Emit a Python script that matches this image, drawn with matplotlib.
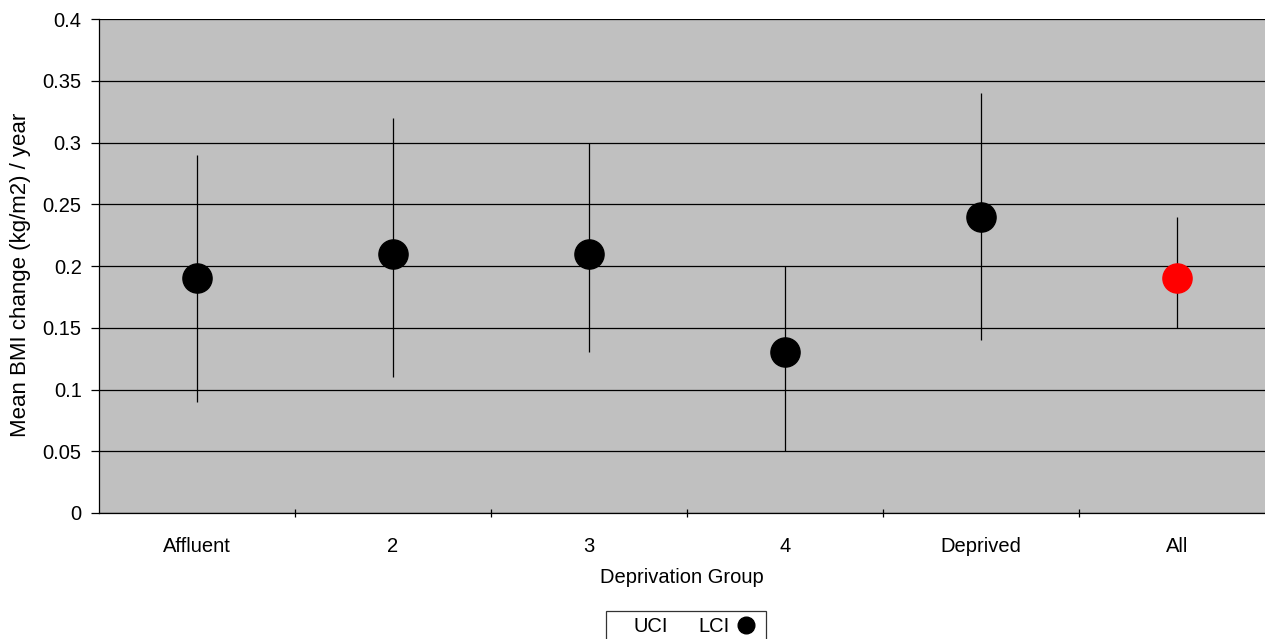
import matplotlib
matplotlib.use('Agg')
import matplotlib.pyplot as plt
from matplotlib.lines import Line2D
import numpy as np

plt.rcParams['font.family'] = ['Liberation Sans', 'DejaVu Sans']

groups = ['Affluent', '2', '3', '4', 'Deprived', 'All']
mean_change = [0.19, 0.21, 0.21, 0.13, 0.24, 0.19]
uci = [0.29, 0.32, 0.30, 0.20, 0.34, 0.24]
lci = [0.09, 0.11, 0.13, 0.05, 0.14, 0.15]
point_colors = ['black', 'black', 'black', 'black', 'black', 'red']
y_ticks = [0, 0.05, 0.1, 0.15, 0.2, 0.25, 0.3, 0.35, 0.4]
y_tick_labels = ['0', '0.05', '0.1', '0.15', '0.2', '0.25', '0.3', '0.35', '0.4']

fs = 14.5

fig = plt.figure(figsize=(12.65, 6.39), dpi=100)
ax = fig.add_axes([99 / 1265, 126 / 639, 1 - 99 / 1265, 494 / 639])
ax.set_facecolor('#c0c0c0')

x = np.arange(len(groups))
# error bars (UCI / LCI)
ax.vlines(x, lci, uci, color='black', linewidth=0.9, zorder=3)
for xi, m, c in zip(x, mean_change, point_colors):
    ax.plot(xi, m, 'o', color=c, markersize=21, zorder=4)

ax.set_yticks(y_ticks)
ax.set_yticklabels(y_tick_labels)
ax.yaxis.grid(True, color='black', linewidth=0.9)
ax.set_axisbelow(True)

ax.set_xticks(x)
ax.set_xticklabels(groups)
ax.set_xticks(np.arange(len(groups)) + 0.5, minor=True)
ax.tick_params(axis='x', which='major', length=0, labelsize=fs, pad=17)
ax.tick_params(axis='x', which='minor', length=6, direction='inout', width=0.9)
ax.tick_params(axis='y', length=6, direction='out', labelsize=fs, width=0.9, pad=6.5)

# limits after ticks (the 5.5 minor tick would stretch the view)
ax.set_ylim(0, 0.4)
ax.set_xlim(-0.5, -0.5 + (1265 - 99) / 196)

for s in ['top', 'right']:
    ax.spines[s].set_visible(False)
ax.spines['left'].set_linewidth(0.9)
ax.spines['bottom'].set_linewidth(0.9)

ax.set_xlabel('Deprivation Group', fontsize=fs, labelpad=9)
ax.set_ylabel('Mean BMI change (kg/m2) / year', fontsize=16)
ax.yaxis.set_label_coords(-0.058, 0.482)

handles = [Line2D([], [], linestyle='none'),
           Line2D([], [], linestyle='none'),
           Line2D([], [], linestyle='none', marker='o', color='black', markersize=12)]
leg = fig.legend(handles, ['UCI', 'LCI', ''], loc='upper center',
                 bbox_to_anchor=(686 / 1265, 1 - 611 / 639), ncol=3,
                 handlelength=0.8, handletextpad=0.3, columnspacing=0.4,
                 fontsize=fs, frameon=True, fancybox=False, borderpad=0.3,
                 borderaxespad=0)
leg.get_frame().set_edgecolor('black')
leg.get_frame().set_linewidth(0.9)

fig.savefig('out.png', dpi=100)
